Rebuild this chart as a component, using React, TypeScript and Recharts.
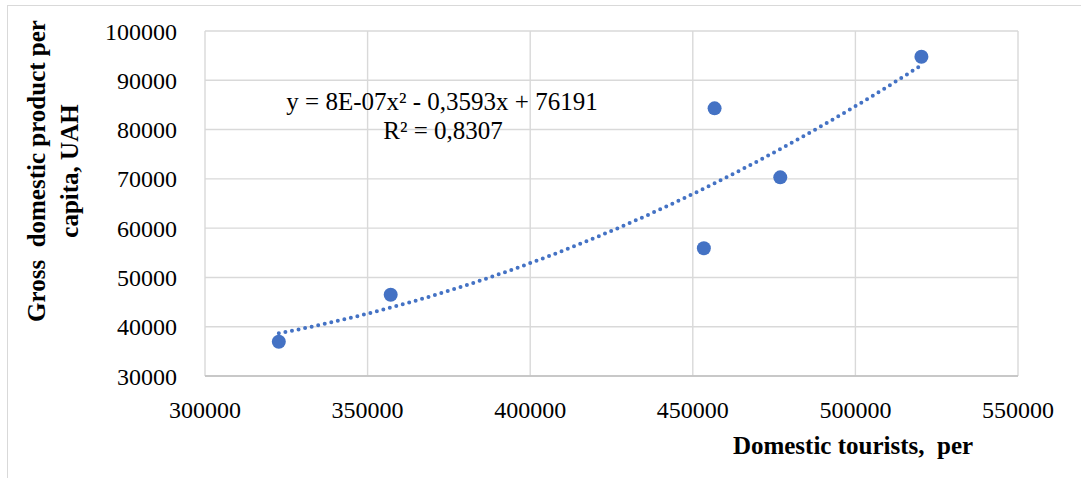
import React from 'react';
import {
  ScatterChart,
  Scatter,
  XAxis,
  YAxis,
  CartesianGrid,
} from 'recharts';

// domestic tourists (persons) vs GDP per capita (UAH)
const TOURISTS = [322700, 357100, 453400, 456700, 476900, 520300];
const GDP = [36960, 46500, 55910, 84310, 70310, 94780];

const X_TICKS = [300000, 350000, 400000, 450000, 500000, 550000];
const Y_TICKS = [30000, 40000, 50000, 60000, 70000, 80000, 90000, 100000];

const EQUATION = 'y = 8E-07x² - 0,3593x + 76191';
const R_SQUARED = 'R² = 0,8307';
const X_TITLE = 'Domestic tourists,  per';
const Y_TITLE = ['Gross  domestic product per', 'capita, UAH'];

const BLUE = '#4472C4';
const GRID = '#d9d9d9';
const FONT = '"Liberation Serif", "Times New Roman", serif';

// least-squares quadratic trendline, x scaled by 1e5 to keep the sums sane
function quadFit(xs: number[], ys: number[]) {
  const u = xs.map((x) => x / 1e5);
  const s = [0, 0, 0, 0, 0];
  const t = [0, 0, 0];
  u.forEach((v, i) => {
    for (let k = 0; k < 5; k++) s[k] += v ** k;
    for (let k = 0; k < 3; k++) t[k] += ys[i] * v ** k;
  });
  const m = [
    [s[4], s[3], s[2]],
    [s[3], s[2], s[1]],
    [s[2], s[1], s[0]],
  ];
  const det3 = (a: number[][]) =>
    a[0][0] * (a[1][1] * a[2][2] - a[1][2] * a[2][1]) -
    a[0][1] * (a[1][0] * a[2][2] - a[1][2] * a[2][0]) +
    a[0][2] * (a[1][0] * a[2][1] - a[1][1] * a[2][0]);
  const rhs = [t[2], t[1], t[0]];
  const d = det3(m);
  const coef = [0, 1, 2].map((c) => {
    const mc = m.map((row, r) => row.map((v, j) => (j === c ? rhs[r] : v)));
    return det3(mc) / d;
  });
  return (x: number) => {
    const v = x / 1e5;
    return coef[0] * v * v + coef[1] * v + coef[2];
  };
}

const points = TOURISTS.map((x, i) => ({ x, y: GDP[i] }));

const trendFn = quadFit(TOURISTS, GDP);
const xMin = Math.min(...TOURISTS);
const xMax = Math.max(...TOURISTS);
const trend = Array.from({ length: 81 }, (_, i) => {
  const x = xMin + ((xMax - xMin) * i) / 80;
  return { x, y: trendFn(x) };
});

const Dot = (props: any) => (
  <circle cx={props.cx} cy={props.cy} r={7} fill={BLUE} />
);

const tickStyle = { fontFamily: FONT, fontSize: 24, fill: '#000' };

const XTick = ({ x, y, payload }: any) => (
  <text x={x} y={y} dy={17} textAnchor="middle" style={tickStyle}>
    {String(payload.value)}
  </text>
);

const YTick = ({ x, y, payload }: any) => (
  <text x={x} y={y} dy={8.5} textAnchor="end" style={tickStyle}>
    {String(payload.value)}
  </text>
);

export default function App() {
  return (
    <div
      style={{
        position: 'absolute',
        left: 0,
        top: 0,
        width: 1081,
        height: 478,
        background: '#fff',
        overflow: 'hidden',
        fontFamily: FONT,
      }}
    >
      <div
        style={{
          position: 'absolute',
          left: 7,
          top: 5,
          width: 1100,
          height: 500,
          borderLeft: `1.5px solid ${GRID}`,
          borderTop: `1.5px solid ${GRID}`,
        }}
      />
      <div style={{ position: 'absolute', left: 0, top: 0 }}>
        <ScatterChart
          width={1081}
          height={478}
          margin={{ top: 31, right: 63, bottom: 62, left: 125 }}
          style={{ fontFamily: FONT }}
        >
          <CartesianGrid stroke={GRID} strokeWidth={1.4} />
          <XAxis
            type="number"
            dataKey="x"
            domain={[300000, 550000]}
            ticks={X_TICKS}
            height={40}
            tickLine={false}
            tickMargin={19}
            axisLine={{ stroke: '#bfbfbf', strokeWidth: 1.5 }}
            tick={(p: any) => <XTick {...p} />}
            allowDataOverflow
          />
          <YAxis
            type="number"
            dataKey="y"
            domain={[30000, 100000]}
            ticks={Y_TICKS}
            width={80}
            tickLine={false}
            axisLine={false}
            tickMargin={22}
            tick={(p: any) => <YTick {...p} />}
            allowDataOverflow
          />
          <Scatter
            data={trend}
            line={{
              stroke: BLUE,
              strokeWidth: 4,
              strokeDasharray: '0 6.7',
              strokeLinecap: 'round',
            }}
            lineType="joint"
            shape={() => <g />}
            isAnimationActive={false}
          />
          <Scatter data={points} shape={Dot} isAnimationActive={false} />
        </ScatterChart>
      </div>
      <svg
        width={1081}
        height={478}
        style={{ position: 'absolute', left: 0, top: 0, pointerEvents: 'none' }}
      >
        <g fontFamily={FONT} fill="#000">
          <text x={442} y={110} fontSize={25} textAnchor="middle">
            {EQUATION}
          </text>
          <text x={443} y={139} fontSize={25} textAnchor="middle">
            {R_SQUARED}
          </text>
          <text
            x={853}
            y={454}
            fontSize={25}
            fontWeight="bold"
            textAnchor="middle"
            style={{ whiteSpace: 'pre' }}
          >
            {X_TITLE}
          </text>
          {Y_TITLE.map((line, i) => (
            <text
              key={line}
              x={0}
              y={0}
              fontSize={25}
              fontWeight="bold"
              textAnchor="middle"
              style={{ whiteSpace: 'pre' }}
              transform={`translate(${45 + i * 33}, 171) rotate(-90)`}
            >
              {line}
            </text>
          ))}
        </g>
      </svg>
    </div>
  );
}
